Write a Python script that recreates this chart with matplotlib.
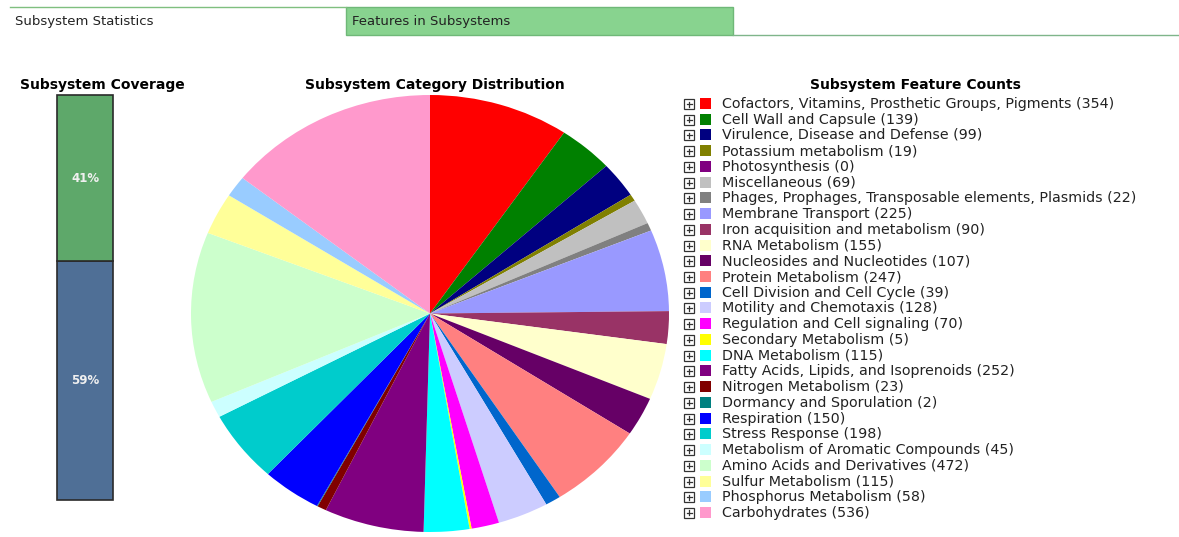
import numpy as np
import matplotlib
matplotlib.use('Agg')
import matplotlib.pyplot as plt
from matplotlib.patches import Rectangle

# Subsystem category data (clockwise from 12 o'clock)
categories = [
    'Cofactors, Vitamins, Prosthetic Groups, Pigments', 'Cell Wall and Capsule',
    'Virulence, Disease and Defense', 'Potassium metabolism', 'Photosynthesis',
    'Miscellaneous', 'Phages, Prophages, Transposable elements, Plasmids',
    'Membrane Transport', 'Iron acquisition and metabolism', 'RNA Metabolism',
    'Nucleosides and Nucleotides', 'Protein Metabolism', 'Cell Division and Cell Cycle',
    'Motility and Chemotaxis', 'Regulation and Cell signaling', 'Secondary Metabolism',
    'DNA Metabolism', 'Fatty Acids, Lipids, and Isoprenoids', 'Nitrogen Metabolism',
    'Dormancy and Sporulation', 'Respiration', 'Stress Response',
    'Metabolism of Aromatic Compounds', 'Amino Acids and Derivatives',
    'Sulfur Metabolism', 'Phosphorus Metabolism', 'Carbohydrates']
counts = [354, 139, 99, 19, 0, 69, 22, 225, 90, 155, 107, 247, 39, 128, 70, 5,
          115, 252, 23, 2, 150, 198, 45, 472, 115, 58, 536]
colors = ['#ff0000', '#008000', '#000080', '#808000', '#800080', '#c0c0c0',
          '#808080', '#9999ff', '#993366', '#ffffcc', '#660066', '#ff8080',
          '#0066cc', '#ccccff', '#ff00ff', '#ffff00', '#00ffff', '#800080',
          '#800000', '#008080', '#0000ff', '#00cccc', '#ccffff', '#ccffcc',
          '#ffff99', '#99ccff', '#ff99cc']

# Subsystem coverage
coverage_labels = ['59%', '41%']
coverage_values = [59, 41]
coverage_colors = ['#4f6f96', '#5ea86a']

W, H = 1179, 537
fig = plt.figure(figsize=(W / 100, H / 100), dpi=100)
fig.patch.set_facecolor('white')


def fbox(x0, y0, x1, y1):
    # pixel box (top-left origin) -> figure fraction [l, b, w, h]
    return [x0 / W, 1 - y1 / H, (x1 - x0) / W, (y1 - y0) / H]


# overlay axes in pixel coordinates for tabs and legend
ov = fig.add_axes([0, 0, 1, 1])
ov.set_xlim(0, W)
ov.set_ylim(H, 0)
ov.axis('off')

# tabs
ov.plot([10, 346], [7, 7], color='#7fbf7f', lw=1)
ov.add_patch(Rectangle((346, 7), 387, 28, facecolor='#88d38f', edgecolor='#6fb878', lw=1))
ov.plot([733, W], [35, 35], color='#7fb58a', lw=1)
ov.text(15, 21, 'Subsystem Statistics', fontsize=9.5, va='center', color='#222222')
ov.text(352, 21, 'Features in Subsystems', fontsize=9.5, va='center', color='#222222')

# titles
ov.text(102, 85, 'Subsystem Coverage', fontsize=10, fontweight='bold', ha='center', va='center')
ov.text(435, 85, 'Subsystem Category Distribution', fontsize=10, fontweight='bold', ha='center', va='center')
ov.text(915, 85, 'Subsystem Feature Counts', fontsize=10, fontweight='bold', ha='center', va='center')

# legend
y0, dy = 104, 15.73
for i, (name, n, c) in enumerate(zip(categories, counts, colors)):
    y = y0 + i * dy
    ov.add_patch(Rectangle((684, y - 5), 10, 10, facecolor='white', edgecolor='#333333', lw=0.9))
    ov.plot([686.5, 691.5], [y, y], color='#333333', lw=0.9)
    ov.plot([689, 689], [y - 2.5, y + 2.5], color='#333333', lw=0.9)
    ov.add_patch(Rectangle((700, y - 6), 11, 11, facecolor=c, edgecolor='none'))
    ov.text(722, y, f'{name} ({n})', fontsize=10.3, va='center', color='#222222')

# coverage bar
axc = fig.add_axes(fbox(57, 95, 113, 500))
bottom = 0
for lab, v, c in zip(coverage_labels, coverage_values, coverage_colors):
    axc.bar(0, v, bottom=bottom, width=1, color=c, edgecolor='#2a2a2a', lw=1.2, clip_on=False)
    axc.text(0, bottom + v / 2, lab, ha='center', va='center', color='#f0f0f0',
             fontsize=8.5, fontweight='bold')
    bottom += v
axc.set_xlim(-0.5, 0.5)
axc.set_ylim(0, 100)
axc.axis('off')

# pie
axp = fig.add_axes(fbox(191, 95, 669, 532))
axp.pie(counts, colors=colors, startangle=90, counterclock=False,
        wedgeprops=dict(linewidth=0))
axp.set_aspect('auto')
axp.set_xlim(-1, 1)
axp.set_ylim(-1, 1)
axp.axis('off')

fig.savefig('out.png', dpi=100)
